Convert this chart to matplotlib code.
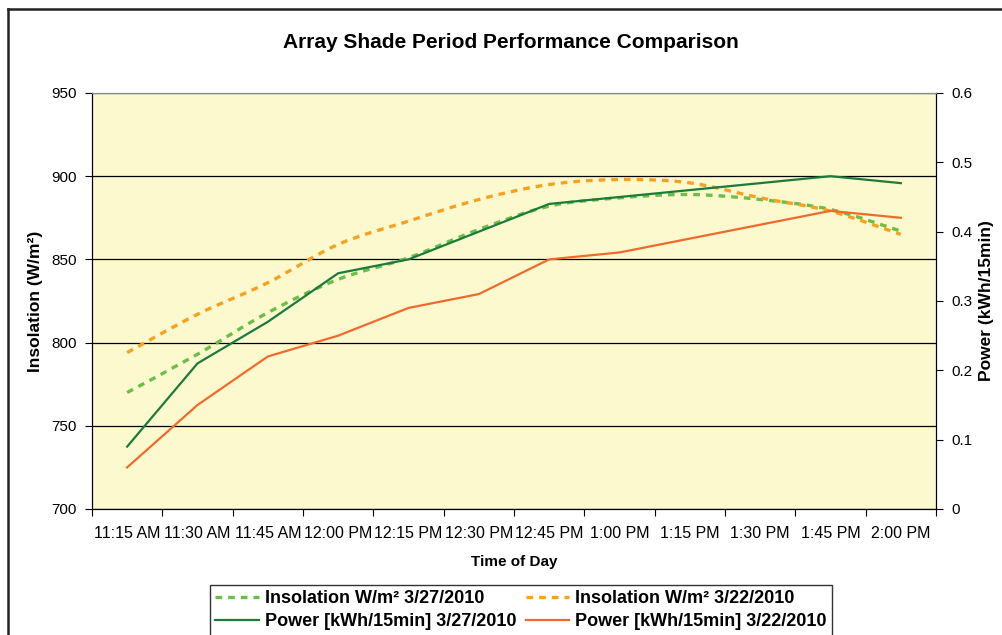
import numpy as np
import matplotlib
matplotlib.use("Agg")
import matplotlib.pyplot as plt
from matplotlib.path import Path
from matplotlib.patches import PathPatch
from matplotlib.lines import Line2D

plt.rcParams['font.family'] = ['Liberation Sans', 'DejaVu Sans']

times = ["11:15 AM", "11:30 AM", "11:45 AM", "12:00 PM", "12:15 PM", "12:30 PM",
         "12:45 PM", "1:00 PM", "1:15 PM", "1:30 PM", "1:45 PM", "2:00 PM"]

# insolation, W/m2 (left axis)
insol_0327 = [770, 793, 818, 838, 851, 868, 882, 887, 889, 886, 880, 867]
insol_0322 = [794, 817, 836, 859, 873, 886, 895, 898, 896, 887, 879, 865]

# power, kWh/15min (right axis)
power_0327 = [0.09, 0.21, 0.27, 0.34, 0.36, 0.40, 0.44, 0.45, 0.46, 0.47, 0.48, 0.47]
power_0322 = [0.06, 0.15, 0.22, 0.25, 0.29, 0.31, 0.36, 0.37, 0.39, 0.41, 0.43, 0.42]

c_ins27 = "#6bbf45"
c_ins22 = "#f7a11f"
c_pow27 = "#1b7b3b"
c_pow22 = "#f26a2b"


def smooth_path(x, y):
    """Excel style smoothed line: Catmull-Rom turned into cubic Beziers."""
    pts = np.column_stack([x, y]).astype(float)
    n = len(pts)
    verts = [pts[0]]
    codes = [Path.MOVETO]
    for i in range(n - 1):
        p0 = pts[max(i - 1, 0)]
        p1 = pts[i]
        p2 = pts[i + 1]
        p3 = pts[min(i + 2, n - 1)]
        verts += [p1 + (p2 - p0) / 6.0, p2 - (p3 - p1) / 6.0, p2]
        codes += [Path.CURVE4] * 3
    return Path(verts, codes)


fig = plt.figure(figsize=(10.02, 6.35), dpi=100)
ax = fig.add_axes([92 / 1002, 1 - 509 / 635, (936 - 92) / 1002, (509 - 93) / 635])
ax2 = ax.twinx()

ax.set_facecolor("#fcf9cf")
x = np.arange(len(times))

dash = (2.0, 1.8)
ax.add_patch(PathPatch(smooth_path(x, insol_0327), fill=False, edgecolor=c_ins27,
                       lw=2.4, linestyle=(0, dash), zorder=3))
ax.add_patch(PathPatch(smooth_path(x, insol_0322), fill=False, edgecolor=c_ins22,
                       lw=2.4, linestyle=(0, dash), zorder=3))
ax2.plot(x, power_0327, color=c_pow27, lw=1.6)
ax2.plot(x, power_0322, color=c_pow22, lw=1.6)

ax.set_xlim(-0.5, len(times) - 0.5)
ax.set_ylim(700, 950)
ax2.set_ylim(0, 0.6)
ax.set_yticks(np.arange(700, 951, 50))
ax2.set_yticks(np.arange(0, 0.61, 0.1))
ax2.set_yticklabels(["0", "0.1", "0.2", "0.3", "0.4", "0.5", "0.6"])

ax.set_xticks(np.arange(-0.5, len(times), 1))
ax.set_xticklabels([])
ax.set_xticks(x, minor=True)
ax.set_xticklabels(times, minor=True)
ax.tick_params(axis="x", which="minor", length=0, pad=12, labelsize=11.5)
ax.tick_params(axis="x", which="major", length=5, direction="out")
ax.tick_params(axis="y", labelsize=11, length=5, direction="out", pad=6)
ax2.tick_params(axis="y", labelsize=11, length=5, direction="out", pad=6)

ax.grid(axis="y", color="black", lw=0.9)
ax.set_axisbelow(True)
for a in (ax, ax2):
    a.spines["top"].set_color("#8c8c8c")
    a.spines["left"].set_color("black")
    a.spines["right"].set_color("black")
    a.spines["bottom"].set_color("black")

ax.set_xlabel("Time of Day", fontsize=11, fontweight="bold", labelpad=10)
ax.set_ylabel("Insolation (W/m²)", fontsize=12.5, fontweight="bold", labelpad=6)
ax2.set_ylabel("Power (kWh/15min)", fontsize=12.5, fontweight="bold", labelpad=5)
fig.text(511 / 1002, 1 - 43 / 635, "Array Shade Period Performance Comparison",
         ha="center", va="center", fontsize=15, fontweight="bold")

handles = [
    Line2D([], [], color=c_ins27, lw=2.4, linestyle=(0, dash)),
    Line2D([], [], color=c_pow27, lw=1.6),
    Line2D([], [], color=c_ins22, lw=2.4, linestyle=(0, dash)),
    Line2D([], [], color=c_pow22, lw=1.6),
]
labels = ["Insolation W/m² 3/27/2010", "Power [kWh/15min] 3/27/2010",
          "Insolation W/m² 3/22/2010", "Power [kWh/15min] 3/22/2010"]
leg = fig.legend(handles, labels, ncol=2, loc="upper center",
                 bbox_to_anchor=(521 / 1002, 1 - 585 / 635),
                 prop={"size": 13, "weight": "bold"}, frameon=True, fancybox=False,
                 handlelength=2.4, handletextpad=0.35, columnspacing=0.5,
                 borderpad=0.3, labelspacing=0.33, borderaxespad=0)
leg.get_frame().set_edgecolor("black")
leg.get_frame().set_linewidth(1.0)

# outer chart border (only left and top edges are visible)
fig.add_artist(Line2D([8 / 1002, 8 / 1002], [0, 1 - 8.5 / 635], color="#222222", lw=1.8,
                      transform=fig.transFigure))
fig.add_artist(Line2D([8 / 1002, 1], [1 - 8.5 / 635, 1 - 8.5 / 635], color="#222222",
                      lw=1.8, transform=fig.transFigure))

fig.savefig("out.png", dpi=100)
